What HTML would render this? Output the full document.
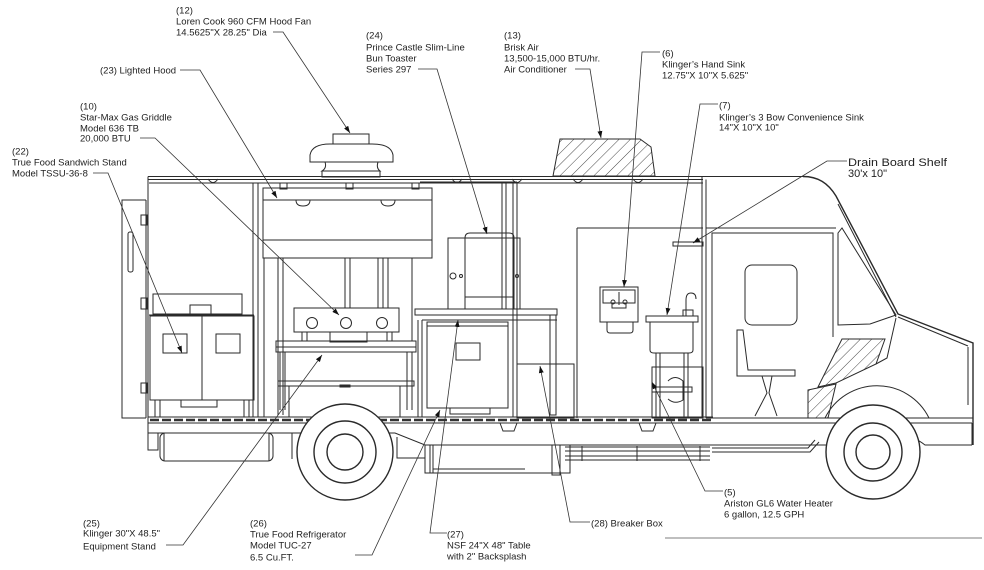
<!DOCTYPE html>
<html><head><meta charset="utf-8"><style>
html,body{margin:0;padding:0;background:#fff;}
svg{display:block;}
text{font-family:"Liberation Sans",sans-serif;font-size:9.5px;fill:#222;}
.t{fill:none;stroke:#2a2a2a;stroke-width:1;}
.th{fill:none;stroke:#2a2a2a;stroke-width:1.4;}
.l{fill:none;stroke:#333;stroke-width:0.8;}
.h{fill:url(#hatch);stroke:#2a2a2a;stroke-width:1;}
</style></head><body>
<svg width="984" height="570" viewBox="0 0 984 570" xmlns="http://www.w3.org/2000/svg">
<defs>
<pattern id="hatch" width="8" height="8" patternUnits="userSpaceOnUse" patternTransform="rotate(45)"><line x1="0" y1="0" x2="0" y2="8" stroke="#333" stroke-width="0.9"/></pattern>
<marker id="a" viewBox="0 0 10 10" refX="10" refY="5" markerWidth="7" markerHeight="7" markerUnits="userSpaceOnUse" orient="auto"><path d="M0,1.5 L10,5 L0,8.5z" fill="#111"/></marker>
</defs>

<!-- ROOF -->
<line class="t" x1="148" y1="176.5" x2="803" y2="176.5"/>
<line class="t" x1="148" y1="179.5" x2="703" y2="179.5"/>
<line class="t" x1="149" y1="183" x2="703" y2="183"/>
<g class="t">
<path d="M208,179 Q213,186 218,179"/><path d="M452,179 Q457,186 462,179"/><path d="M512,179 Q517,186 522,179"/><path d="M573,179 Q578,186 583,179"/><path d="M633,179 Q638,186 643,179"/>
<rect x="280" y="183" width="7" height="6"/><rect x="346" y="183" width="7" height="6"/><rect x="412" y="183" width="7" height="6"/>
</g>

<!-- FAN -->
<g class="t">
<rect x="333" y="134" width="36" height="10"/>
<path d="M310,162 L310,155 Q312,144 330,144 L372,144 Q391,144 393,155 L393,162 Z"/>
<path d="M325,162 Q327,168 322,171 L380,171 Q376,168 378,162"/>
<rect x="322" y="171" width="58" height="6"/>
</g>

<!-- AC UNIT -->
<path class="h" d="M560,139 L640,139 L651,147 L655,176 L553,176 Z"/>

<!-- REAR DOOR -->
<g class="t">
<path d="M146,200 L122,200 L122,418 L146,418"/>
<line x1="146" y1="200" x2="146" y2="418"/>
<line x1="148" y1="176.5" x2="148" y2="450"/>
<rect x="128" y="232" width="5" height="40" rx="2"/>
<rect x="141" y="215" width="6" height="10"/><rect x="141" y="298" width="6" height="11"/><rect x="141" y="383" width="6" height="10"/>
</g>

<!-- SANDWICH STAND -->
<g class="t">
<rect x="153" y="294" width="89" height="20"/>
<rect x="190" y="305" width="21" height="9"/>
<line x1="149" y1="315" x2="254" y2="315"/>
<rect x="150" y="316" width="104" height="84"/>
<line x1="202" y1="316" x2="202" y2="400"/>
<rect x="163" y="334" width="24" height="19"/>
<rect x="216" y="334" width="24" height="19"/>
<rect x="181" y="400" width="36" height="7"/>
<line x1="155" y1="400" x2="155" y2="417"/><line x1="160" y1="400" x2="160" y2="417"/>
<line x1="244" y1="400" x2="244" y2="417"/><line x1="249" y1="400" x2="249" y2="417"/>
</g>

<!-- PARTITION -->
<g class="t">
<line x1="253" y1="183" x2="253" y2="417"/><line x1="258" y1="183" x2="258" y2="417"/><line x1="264" y1="258" x2="264" y2="417"/>
</g>

<!-- HOOD -->
<g class="t">
<rect x="263" y="188" width="169" height="70"/>
<line x1="263" y1="200" x2="432" y2="200"/>
<line x1="263" y1="240" x2="432" y2="240"/>
<path d="M296,200 Q296,206 303,206 Q310,206 310,200"/>
<path d="M381,200 Q381,206 388,206 Q395,206 395,200"/>
</g>

<!-- GRIDDLE AREA POSTS -->
<g class="t">
<line x1="278" y1="258" x2="278" y2="415"/><line x1="283" y1="258" x2="283" y2="415"/>
<line x1="345" y1="258" x2="345" y2="308"/><line x1="350" y1="258" x2="350" y2="308"/>
<line x1="378" y1="258" x2="378" y2="308"/><line x1="383" y1="258" x2="383" y2="308"/><line x1="388" y1="258" x2="388" y2="308"/>
<line x1="412" y1="258" x2="412" y2="341"/>
<line x1="418" y1="320" x2="418" y2="417"/><line x1="422" y1="320" x2="422" y2="417"/>
</g>

<!-- GRIDDLE -->
<g class="t">
<rect x="294" y="308" width="105" height="24"/>
<circle cx="312" cy="323" r="5.5"/><circle cx="346" cy="323" r="5.5"/><circle cx="382" cy="323" r="5.5"/>
<path d="M330,332 L330,342 L367,342 L367,332"/>
<line x1="302" y1="332" x2="302" y2="341"/><line x1="307" y1="332" x2="307" y2="341"/>
<line x1="387" y1="332" x2="387" y2="341"/><line x1="392" y1="332" x2="392" y2="341"/>
<rect x="276" y="341" width="140" height="11"/>
<line x1="276" y1="347" x2="416" y2="347"/>
<line x1="280" y1="352" x2="280" y2="410"/><line x1="285" y1="352" x2="285" y2="410"/>
<line x1="407" y1="352" x2="407" y2="410"/><line x1="412" y1="352" x2="412" y2="410"/>
<rect x="278" y="381" width="136" height="5"/>
<line x1="289" y1="386" x2="289" y2="417"/><line x1="400" y1="386" x2="400" y2="417"/>
<rect x="340" y="385" width="10" height="2"/>
</g>

<!-- POSTS MID -->
<g class="t">
<line x1="420" y1="182" x2="517" y2="182"/>
<line x1="502" y1="183" x2="502" y2="309"/><line x1="506" y1="183" x2="506" y2="309"/>
<line x1="513" y1="183" x2="513" y2="417"/><line x1="517" y1="183" x2="517" y2="417"/>
</g>

<!-- TOASTER -->
<g class="t">
<rect x="448" y="238" width="72" height="71"/>
<path d="M465,309 L465,238 Q465,233 470,233 L509,233 Q514,233 514,238 L514,309"/>
<line x1="465" y1="297" x2="514" y2="297"/>
<circle cx="453" cy="276" r="3"/><circle cx="461" cy="276" r="1.5"/><circle cx="517" cy="276" r="1.5"/>
</g>

<!-- TABLE & FRIDGE -->
<g class="t">
<rect x="415" y="309" width="142" height="6"/>
<line x1="422" y1="320" x2="557" y2="320"/>
<rect x="550" y="315" width="6" height="100"/>
<rect x="427" y="322" width="81" height="86"/>
<line x1="427" y1="326" x2="508" y2="326"/>
<rect x="456" y="343" width="24" height="17"/>
<rect x="450" y="408" width="40" height="6"/>
<rect x="517" y="364" width="57" height="54"/>
</g>

<!-- SINK WALL -->
<g class="t">
<line x1="577" y1="228" x2="703" y2="228"/>
<line x1="577" y1="228" x2="577" y2="418"/>
<line x1="702" y1="176.5" x2="702" y2="418"/><line x1="706" y1="179.5" x2="706" y2="418"/>
</g>

<!-- HAND SINK -->
<g class="t">
<rect x="600" y="287" width="38" height="35"/>
<rect x="603" y="290" width="32" height="13"/>
<path d="M607,322 L607,330 Q607,333 610,333 L630,333 Q633,333 633,330 L633,322"/>
<line x1="619" y1="292" x2="619" y2="305"/>
<rect x="612" y="303" width="14" height="5"/>
<circle cx="613" cy="302" r="2"/><circle cx="625" cy="302" r="2"/>
</g>

<!-- CONVENIENCE SINK + HEATER -->
<g class="t">
<rect x="652" y="367" width="51" height="51"/>
<path d="M668,381 Q675,374 683,381 L683,400 Q675,405 668,399"/>
<rect x="646" y="316" width="52" height="6"/>
<path d="M650,322 L650,350 Q650,353 654,353 L689,353 Q693,353 693,350 L693,322"/>
<path d="M686,316 L686,300 Q686,293 691,293 Q696,293 696,299"/>
<rect x="683" y="310" width="10" height="6"/>
<line x1="656" y1="353" x2="656" y2="418"/><line x1="660" y1="353" x2="660" y2="418"/>
<line x1="684" y1="353" x2="684" y2="418"/><line x1="688" y1="353" x2="688" y2="418"/>
<rect x="652" y="387" width="40" height="5"/>
<rect x="673" y="242" width="30" height="4"/>
</g>

<!-- FLOOR -->
<g class="t">
<line x1="148" y1="417" x2="713" y2="417"/>
<line x1="148" y1="423" x2="972" y2="423"/>
<line x1="706" y1="418" x2="973" y2="418"/>
</g>
<line x1="150" y1="420" x2="712" y2="420" stroke="#333" stroke-width="2.5" stroke-dasharray="9 3"/>
<g class="t">
<path d="M500,423 L503,431 L514,431 L517,423"/>
<path d="M639,423 L642,431 L653,431 L656,423"/>
</g>

<!-- CHASSIS -->
<g class="t">
<path d="M148,433 L395,433 L425,445 L830,445"/>
<path d="M830,445 Q840,437 850,437 L905,437 Q915,437 925,445 L972,445"/>
<line x1="972" y1="423" x2="972" y2="445"/>
<rect x="148" y="433" width="10" height="17"/>
<rect x="160" y="433" width="113" height="28" rx="5"/>
<line x1="164" y1="433" x2="164" y2="461"/><line x1="269" y1="433" x2="269" y2="461"/>
<line x1="292" y1="433" x2="292" y2="459"/>
<path d="M397,437 L397,458 L425,458"/>
<rect x="425" y="445" width="145" height="28"/>
<line x1="430" y1="445" x2="430" y2="473"/><line x1="433" y1="445" x2="433" y2="473"/>
<line x1="433" y1="469" x2="525" y2="469"/>
<rect x="552" y="445" width="8" height="30"/>
<line x1="565" y1="447" x2="710" y2="447"/><line x1="565" y1="451" x2="710" y2="451"/>
<line x1="565" y1="456" x2="710" y2="456"/><line x1="565" y1="460" x2="710" y2="460"/>
<line x1="582" y1="446" x2="582" y2="461"/><line x1="637" y1="446" x2="637" y2="461"/><line x1="700" y1="446" x2="700" y2="461"/>
<path d="M712,448 L808,448 L815,440"/>
<path d="M712,452 L810,452 L819,442"/>
</g>

<!-- WHEELS -->
<g class="th">
<circle cx="345" cy="452" r="48" fill="#fff"/>
<circle cx="345" cy="452" r="31"/>
<circle cx="345" cy="452" r="18"/>
<circle cx="873" cy="452" r="47" fill="#fff"/>
<circle cx="873" cy="452" r="29"/>
<circle cx="873" cy="452" r="17"/>
</g>
<path class="t" d="M825,418 A58,58 0 0 1 929,418"/>

<!-- CAB -->
<g class="th">
<path d="M803,176.5 C818,176.5 828,183 836,196 L898,314 L973,343 L973,445"/>
</g>
<g class="t">
<path d="M838,204 L896,317"/>
<line x1="898" y1="317" x2="968" y2="346"/>
<line x1="968" y1="347" x2="968" y2="405"/>
<line x1="706" y1="228" x2="836" y2="228"/>
<path d="M712,418 L712,233 L833,233 L833,337"/>
<path d="M838,233 L842,228 L896,315 L870,324 L838,325 Z"/>
<rect x="745" y="265" width="52" height="60" rx="7"/>
<path d="M737,330 L743,330 L748,370 L795,370 L795,376 L737,376 Z"/>
<path d="M762,376 L767,393 L755,416"/><path d="M772,376 L769,393 L777,416"/>
<path d="M896,318 L887,358 L876,364"/>
</g>
<path class="h" d="M842,339 L885,339 L876,364 L836,383 L818,387 Z"/>
<path class="h" d="M808,390 L836,384 L828,418 L808,418 Z"/>

<!-- LEADERS -->
<g class="l">
<path d="M273,32 L283,32 L350,133" marker-end="url(#a)"/>
<path d="M180,70 L200,70 L277,198" marker-end="url(#a)"/>
<path d="M140,138 L155,138 L339,315" marker-end="url(#a)"/>
<path d="M93,173 L108,173 L182,353" marker-end="url(#a)"/>
<path d="M418,69 L437,69 L487,234" marker-end="url(#a)"/>
<path d="M575,69 L590,69 L601,138" marker-end="url(#a)"/>
<path d="M660,52 L642,52 L624,287" marker-end="url(#a)"/>
<path d="M718,104 L700,104 L667,315" marker-end="url(#a)"/>
<path d="M847,161 L827,161 L693,243" marker-end="url(#a)"/>
<path d="M166,545 L183,545 L322,355" marker-end="url(#a)"/>
<path d="M355,555 L372,555 L440,410" marker-end="url(#a)"/>
<path d="M447,533 L430,533 L458,320" marker-end="url(#a)"/>
<path d="M590,522 L570,522 L540,366" marker-end="url(#a)"/>
<path d="M723,491 L705,491 L652,382" marker-end="url(#a)"/>
</g>
<line x1="665" y1="538" x2="982" y2="538" stroke="#555" stroke-width="0.8"/>

<!-- LABELS -->
<text x="176" y="13.5">(12)</text>
<text x="176" y="24.5">Loren Cook 960 CFM Hood Fan</text>
<text x="176" y="35.5">14.5625"X 28.25" Dia</text>

<text x="100" y="73.5">(23) Lighted Hood</text>

<text x="80" y="109.5">(10)</text>
<text x="80" y="120.5">Star-Max Gas Griddle</text>
<text x="80" y="131.5">Model 636 TB</text>
<text x="80" y="141.5">20,000 BTU</text>

<text x="12" y="154.5">(22)</text>
<text x="12" y="165.5">True Food Sandwich Stand</text>
<text x="12" y="176.5">Model TSSU-36-8</text>

<text x="366" y="38.5">(24)</text>
<text x="366" y="50.5">Prince Castle Slim-Line</text>
<text x="366" y="61.5">Bun Toaster</text>
<text x="366" y="72.5">Series 297</text>

<text x="504" y="38.5">(13)</text>
<text x="504" y="50.5">Brisk Air</text>
<text x="504" y="61.5">13,500-15,000 BTU/hr.</text>
<text x="504" y="72.5">Air Conditioner</text>

<text x="662" y="56.5">(6)</text>
<text x="662" y="67.5">Klinger’s Hand Sink</text>
<text x="662" y="78.5">12.75"X 10"X 5.625"</text>

<text x="719" y="108.5">(7)</text>
<text x="719" y="120.5">Klinger’s 3 Bow Convenience Sink</text>
<text x="719" y="130.5">14"X 10"X 10"</text>

<text x="848" y="166" style="font-size:11px" textLength="99" lengthAdjust="spacingAndGlyphs">Drain Board Shelf</text>
<text x="848" y="177" style="font-size:11px">30'x 10"</text>

<text x="83" y="526.5">(25)</text>
<text x="83" y="536.5">Klinger 30"X 48.5"</text>
<text x="83" y="549.5"> Equipment Stand</text>

<text x="250" y="526.5">(26)</text>
<text x="250" y="537.5">True Food Refrigerator</text>
<text x="250" y="548.5">Model TUC-27</text>
<text x="250" y="560.5">6.5 Cu.FT.</text>

<text x="447" y="537.5">(27)</text>
<text x="447" y="548.5">NSF 24"X 48" Table</text>
<text x="447" y="559.5">with 2" Backsplash</text>

<text x="591" y="526.5">(28) Breaker Box</text>

<text x="724" y="495.5">(5)</text>
<text x="724" y="506.5">Ariston GL6 Water Heater</text>
<text x="724" y="517.5">6 gallon, 12.5 GPH</text>
</svg>
</body></html>
